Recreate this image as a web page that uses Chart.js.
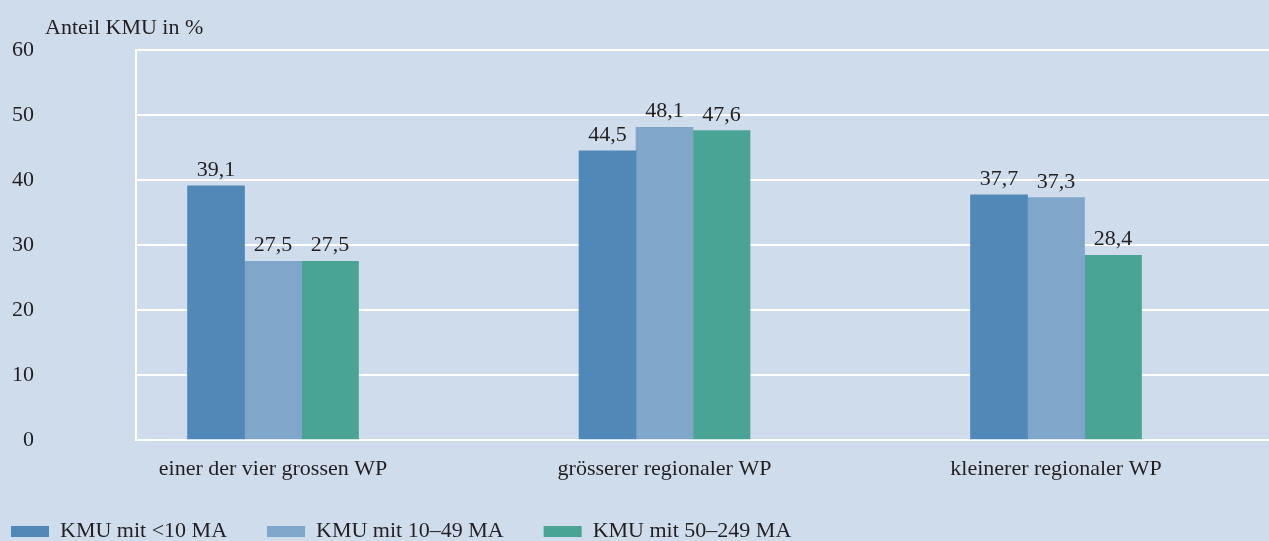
<!DOCTYPE html>
<html lang="de">
<head>
<meta charset="utf-8">
<title>Anteil KMU nach Prüfergrösse</title>
<script src="https://cdn.jsdelivr.net/npm/chart.js@4.4.1/dist/chart.umd.min.js"></script>
<style>
  html, body { margin: 0; padding: 0; background: #cedcec; }
  #wrap { width: 1269px; height: 541px; }
  canvas { display: block; }
</style>
</head>
<body>
<div id="wrap"><canvas id="c" width="1269" height="541"></canvas></div>
<script>
// Chart data
const categories = ['einer der vier grossen WP', 'grösserer regionaler WP', 'kleinerer regionaler WP'];
const seriesNames = ['KMU mit <10 MA', 'KMU mit 10–49 MA', 'KMU mit 50–249 MA'];
const kmuUnder10 = [39.1, 44.5, 37.7];
const kmu10to49 = [27.5, 48.1, 37.3];
const kmu50to249 = [27.5, 47.6, 28.4];
const yTicks = [0, 10, 20, 30, 40, 50, 60];
const axisTitle = 'Anteil KMU in %';

// Styling
const FONT = 'Liberation Serif';
const TEXT = '#231f20';
const BG = '#cedcec';
const COLORS = ['#5088b7', '#80a6ca', '#4aa496'];

Chart.defaults.font.family = FONT;
Chart.defaults.font.size = 22;
Chart.defaults.color = TEXT;

const fmt = v => v.toFixed(1).replace('.', ',');
const toPoints = arr => arr.map((y, i) => ({ x: i, y }));

const seriesValues = [kmuUnder10, kmu10to49, kmu50to249];

// Value labels above each bar
const valueLabels = {
  id: 'valueLabels',
  afterDatasetsDraw(chart) {
    const ctx = chart.ctx;
    ctx.save();
    ctx.font = `22px "${FONT}"`;
    ctx.fillStyle = TEXT;
    ctx.textAlign = 'center';
    ctx.textBaseline = 'alphabetic';
    chart.data.datasets.forEach((ds, di) => {
      const meta = chart.getDatasetMeta(di);
      meta.data.forEach((el, i) => {
        ctx.fillText(fmt(ds.data[i].y), el.x, el.y - 10);
      });
    });
    ctx.restore();
  }
};

// Axis caption above the value axis
const axisCaption = {
  id: 'axisCaption',
  afterDraw(chart) {
    const ctx = chart.ctx;
    ctx.save();
    ctx.font = `22px "${FONT}"`;
    ctx.fillStyle = TEXT;
    ctx.textAlign = 'left';
    ctx.textBaseline = 'alphabetic';
    ctx.fillText(axisTitle, 45, 34);
    ctx.restore();
  }
};

// Legend row along the bottom edge
const bottomLegend = {
  id: 'bottomLegend',
  afterDraw(chart) {
    const ctx = chart.ctx;
    ctx.save();
    ctx.font = `22px "${FONT}"`;
    ctx.textAlign = 'left';
    ctx.textBaseline = 'alphabetic';
    let x = 11;
    chart.data.datasets.forEach(ds => {
      ctx.fillStyle = ds.backgroundColor;
      ctx.fillRect(x, 526, 38, 11);
      ctx.fillStyle = TEXT;
      const tx = x + 49;
      ctx.fillText(ds.label, tx, 537);
      x = tx + ctx.measureText(ds.label).width + 40;
    });
    ctx.restore();
  }
};

const pageBackground = {
  id: 'pageBackground',
  beforeDraw(chart) {
    const ctx = chart.ctx;
    ctx.save();
    ctx.fillStyle = BG;
    ctx.fillRect(0, 0, chart.width, chart.height);
    ctx.restore();
  }
};

new Chart(document.getElementById('c'), {
  type: 'bar',
  data: {
    datasets: seriesNames.map((name, i) => ({
      label: name,
      data: toPoints(seriesValues[i]),
      backgroundColor: COLORS[i],
      borderWidth: 0,
      barThickness: 57
    }))
  },
  options: {
    responsive: false,
    animation: false,
    devicePixelRatio: 1,
    layout: { padding: { top: 50, left: 0, right: 0, bottom: 0 } },
    plugins: {
      legend: { display: false },
      tooltip: { enabled: false },
      title: { display: false }
    },
    scales: {
      x: {
        type: 'linear',
        offset: false,
        min: -0.35,
        max: 2.544,
        grid: { display: false, drawTicks: false },
        border: { display: true, color: '#ffffff', width: 2 },
        afterBuildTicks(scale) {
          scale.ticks = categories.map((_, i) => ({ value: i }));
        },
        afterFit(scale) {
          scale.height = 101;
          scale.paddingLeft = 0;
          scale.paddingRight = 0;
        },
        ticks: {
          autoSkip: false,
          maxRotation: 0,
          padding: 16,
          color: TEXT,
          font: { size: 22 },
          callback: v => categories[v] ?? ''
        }
      },
      y: {
        min: 0,
        max: 60,
        afterBuildTicks(scale) {
          scale.ticks = yTicks.map(v => ({ value: v }));
        },
        afterFit(scale) {
          scale.width = 136;
          scale.paddingTop = 0;
          scale.paddingBottom = 0;
        },
        grid: { color: '#ffffff', lineWidth: 2, drawTicks: false },
        border: { display: true, color: '#ffffff', width: 2 },
        ticks: {
          padding: 102,
          color: TEXT,
          font: { size: 22 },
          callback: v => String(v)
        }
      }
    }
  },
  plugins: [pageBackground, valueLabels, axisCaption, bottomLegend]
});
</script>
</body>
</html>
